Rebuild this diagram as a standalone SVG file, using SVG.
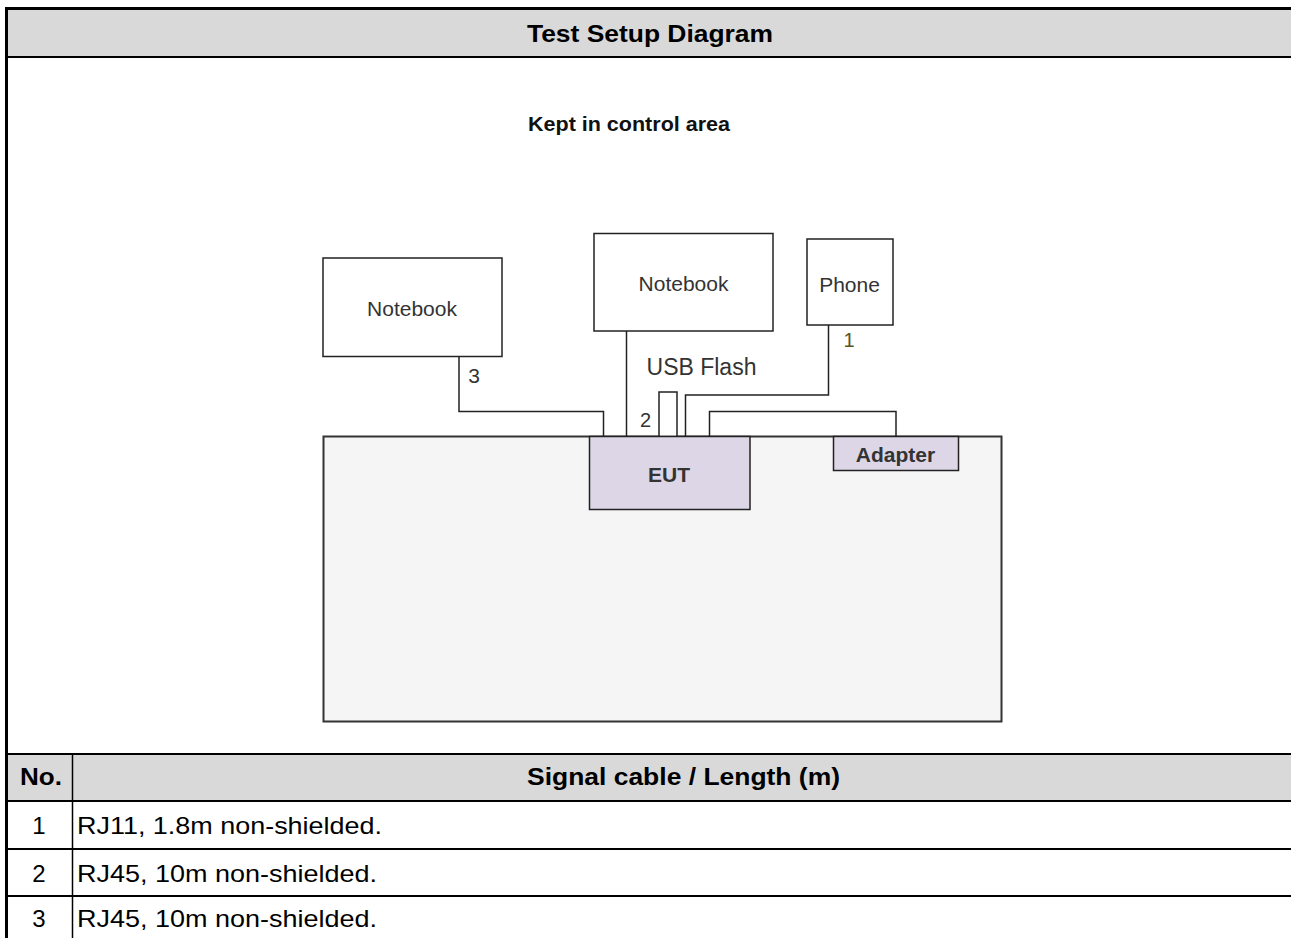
<svg xmlns="http://www.w3.org/2000/svg" width="1291" height="938" viewBox="0 0 1291 938">
<style>
.tb{font-family:"Liberation Sans",Arial,sans-serif;font-weight:bold;font-size:24px;fill:#000}
.tr{font-family:"Liberation Sans",Arial,sans-serif;font-size:24px;fill:#000}
.lbl{font-family:"Liberation Sans",Arial,sans-serif;font-size:21px;fill:#333}
.lblb{font-family:"Liberation Sans",Arial,sans-serif;font-weight:bold;font-size:21px;fill:#333}
.box{fill:#fff;stroke:#222;stroke-width:1.5}
.pur{fill:#ddd6e6;stroke:#222;stroke-width:1.5}
.wire{fill:none;stroke:#222;stroke-width:1.5}
</style>
<rect x="0" y="0" width="1291" height="938" fill="#fff"/>
<g id="table">
<rect x="6" y="8.5" width="1285" height="48.5" fill="#d9d9d9"/>
<rect x="6" y="754" width="1285" height="47" fill="#d9d9d9"/>
<line x1="6.5" y1="7" x2="6.5" y2="938" stroke="#000" stroke-width="3"/>
<line x1="5" y1="8.5" x2="1291" y2="8.5" stroke="#000" stroke-width="3"/>
<line x1="5" y1="57" x2="1291" y2="57" stroke="#000" stroke-width="2"/>
<line x1="5" y1="754" x2="1291" y2="754" stroke="#000" stroke-width="2"/>
<line x1="5" y1="801" x2="1291" y2="801" stroke="#000" stroke-width="2"/>
<line x1="5" y1="849" x2="1291" y2="849" stroke="#000" stroke-width="2"/>
<line x1="5" y1="896" x2="1291" y2="896" stroke="#000" stroke-width="2"/>
<line x1="72.5" y1="754" x2="72.5" y2="938" stroke="#000" stroke-width="1.5"/>
<text class="tb" x="527" y="42" textLength="246" lengthAdjust="spacingAndGlyphs">Test Setup Diagram</text>
<text class="tb" x="20" y="785" textLength="42" lengthAdjust="spacingAndGlyphs">No.</text>
<text class="tb" x="527" y="785" textLength="313" lengthAdjust="spacingAndGlyphs">Signal cable / Length (m)</text>
<text class="tr" x="39" y="834" text-anchor="middle">1</text>
<text class="tr" x="77" y="834" textLength="305" lengthAdjust="spacingAndGlyphs">RJ11, 1.8m non-shielded.</text>
<text class="tr" x="39" y="882" text-anchor="middle">2</text>
<text class="tr" x="77" y="882" textLength="300" lengthAdjust="spacingAndGlyphs">RJ45, 10m non-shielded.</text>
<text class="tr" x="39" y="927" text-anchor="middle">3</text>
<text class="tr" x="77" y="927" textLength="300" lengthAdjust="spacingAndGlyphs">RJ45, 10m non-shielded.</text>
</g>
<text class="lblb" x="528" y="131" textLength="202" lengthAdjust="spacingAndGlyphs" style="font-size:21px;fill:#111">Kept in control area</text>
<g id="table-area">
<rect x="323.5" y="436.5" width="678" height="285" fill="#f5f5f5" stroke="#333" stroke-width="2"/>
</g>
<g id="connectors">
<polyline class="wire" points="459,356.5 459,411.5 603.5,411.5 603.5,436.5"/>
<line class="wire" x1="626.5" y1="331" x2="626.5" y2="436.5"/>
<polyline class="wire" points="828.5,325 828.5,395 685.5,395 685.5,436.5"/>
<polyline class="wire" points="709.5,436.5 709.5,411.5 896,411.5 896,436.5"/>
<text class="lbl" x="474" y="382.5" text-anchor="middle">3</text>
<text class="lbl" x="645.5" y="426.5" text-anchor="middle" style="font-size:20px">2</text>
<text class="lbl" x="849" y="346.5" text-anchor="middle" style="font-size:20px;fill:#555522">1</text>
</g>
<g id="usb-flash">
<rect x="659" y="392" width="18" height="44.5" class="box"/>
<text class="lbl" x="701.5" y="375" text-anchor="middle" style="font-size:23px">USB Flash</text>
</g>
<g id="notebook-left">
<rect x="323" y="258" width="179" height="98.5" class="box"/>
<text class="lbl" x="412" y="316" text-anchor="middle">Notebook</text>
</g>
<g id="notebook-center">
<rect x="594" y="233.5" width="179" height="97.5" class="box"/>
<text class="lbl" x="683.5" y="291" text-anchor="middle">Notebook</text>
</g>
<g id="phone">
<rect x="807" y="239" width="86" height="86" class="box"/>
<text class="lbl" x="849.5" y="291.5" text-anchor="middle">Phone</text>
</g>
<g id="eut">
<rect x="589.5" y="436.5" width="160.5" height="73" class="pur"/>
<text class="lblb" x="669" y="481.5" text-anchor="middle">EUT</text>
</g>
<g id="adapter">
<rect x="833.5" y="436.5" width="125" height="34" class="pur"/>
<text class="lblb" x="895.5" y="461.5" text-anchor="middle">Adapter</text>
</g>
</svg>
